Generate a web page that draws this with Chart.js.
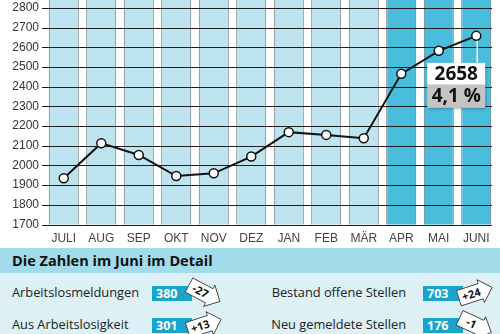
<!DOCTYPE html>
<html>
<head>
<meta charset="utf-8">
<script src="https://cdn.jsdelivr.net/npm/chart.js@4/dist/chart.umd.min.js"></script>
<style>
  html, body { margin: 0; padding: 0; background: #fff; }
  #wrap { position: relative; width: 500px; height: 334px; overflow: hidden; font-family: "Open Sans", sans-serif; }
  #chartBox { position: absolute; left: 0; top: 0; width: 500px; height: 248px; }
  #panel { position: absolute; left: 0; top: 248px; width: 500px; height: 86px; background: #dcf0f6; }
  #panelHead { height: 25px; background: #a2dbea; font-weight: 700; font-size: 14.5px; line-height: 25px; padding-left: 12px; color: #111; }
  .row { position: absolute; font-size: 12.8px; line-height: 19px; color: #222; }
  .lbl { position: absolute; }
  .num { position: absolute; background: #17a5cc; color: #fff; font-weight: 700; font-size: 12.5px; height: 15px; line-height: 15px; padding-left: 4px; width: 36px; }
  svg.arr { position: absolute; overflow: visible; }
</style>
</head>
<body>
<div id="wrap">
  <div id="chartBox"><canvas id="growthChart"></canvas></div>
  <div id="panel">
    <div id="panelHead">Die Zahlen im Juni im Detail</div>
  </div>
</div>
<script>
// Chart data
const months = ['JULI', 'AUG', 'SEP', 'OKT', 'NOV', 'DEZ', 'JAN', 'FEB', 'MÄR', 'APR', 'MAI', 'JUNI'];
const values = [1935, 2113, 2053, 1946, 1960, 2045, 2169, 2155, 2138, 2465, 2582, 2658];
const highlighted = [false, false, false, false, false, false, false, false, false, true, true, true];
const yTicks = [1700, 1800, 1900, 2000, 2100, 2200, 2300, 2400, 2500, 2600, 2700, 2800];
const yMin = 1700;
const yMax = 2840;
const lastValue = '2658';
const lastChange = '4,1 %';

// Detail rows: label, value, change
const detailLabels = ['Arbeitslosmeldungen', 'Aus Arbeitslosigkeit abgemeldet', 'Bestand offene Stellen', 'Neu gemeldete Stellen'];
const detailValues = [380, 301, 703, 176];
const detailChanges = ['-27', '+13', '+24', '-1'];

const COLORS = {
    light: '#bde4ef',
    dark: '#48bddc',
    barEdge: '#5f6e73',
    grid: '#1e1e1e',
    text: '#333'
};

// gridlines go over the columns but under the line
const gridOverBars = {
    id: 'gridOverBars',
    afterDatasetDraw(chart, args) {
        if (args.index !== 0) return;
        const { ctx, chartArea, scales } = chart;
        ctx.save();
        ctx.strokeStyle = COLORS.grid;
        ctx.lineWidth = 1;
        scales.y.ticks.forEach(t => {
            const y = Math.round(scales.y.getPixelForValue(t.value)) + 0.5;
            ctx.beginPath();
            ctx.moveTo(chartArea.left - 3, y);
            ctx.lineTo(chartArea.right - 3, y);
            ctx.stroke();
        });
        ctx.restore();
    }
};

// value box under the last point
const lastLabel = {
    id: 'lastLabel',
    afterDatasetsDraw(chart) {
        const meta = chart.getDatasetMeta(1);
        const pt = meta.data[meta.data.length - 1];
        const { ctx } = chart;
        const left = pt.x - 49, top = pt.y + 27, w = 58, h = 22;
        ctx.save();
        ctx.strokeStyle = '#fff';
        ctx.lineWidth = 1.5;
        ctx.beginPath();
        ctx.moveTo(pt.x + 1, pt.y + 5);
        ctx.lineTo(pt.x + 1, top);
        ctx.stroke();
        ctx.shadowColor = 'rgba(0,0,0,0.35)';
        ctx.shadowBlur = 3;
        ctx.shadowOffsetX = 1;
        ctx.shadowOffsetY = 1;
        ctx.fillStyle = '#fff';
        ctx.fillRect(left, top, w, h);
        ctx.fillStyle = '#c4c4c4';
        ctx.fillRect(left, top + h, w, h + 1);
        ctx.shadowColor = 'transparent';
        ctx.fillStyle = '#111';
        ctx.font = 'bold 19px "Open Sans", sans-serif';
        ctx.textAlign = 'center';
        ctx.textBaseline = 'middle';
        ctx.fillText(lastValue, left + w / 2, top + h / 2 + 1);
        ctx.fillText(lastChange, left + w / 2, top + h + h / 2 + 1);
        ctx.restore();
    }
};

const ctx = document.getElementById('growthChart').getContext('2d');
const chart = new Chart(ctx, {
    type: 'bar',
    data: {
        labels: months,
        datasets: [{
            type: 'bar',
            data: months.map(() => yMax),
            backgroundColor: highlighted.map(h => h ? COLORS.dark : COLORS.light),
            borderColor: COLORS.barEdge,
            borderWidth: 1,
            borderSkipped: 'top',
            barPercentage: 0.8,
            categoryPercentage: 1,
            order: 1
        }, {
            type: 'line',
            data: values,
            borderColor: '#111',
            borderWidth: 2,
            pointRadius: 4.5,
            pointBackgroundColor: '#fff',
            pointBorderColor: '#111',
            pointBorderWidth: 1.5,
            tension: 0,
            clip: false,
            order: 0
        }]
    },
    options: {
        responsive: true,
        maintainAspectRatio: false,
        animation: false,
        layout: { autoPadding: false, padding: { left: 0, right: 5, top: 0, bottom: 0 } },
        plugins: { legend: { display: false }, tooltip: { enabled: false } },
        scales: {
            x: {
                grid: { display: false, drawTicks: false },
                border: { display: false },
                ticks: {
                    color: '#444',
                    padding: 7,
                    font: { family: '"Liberation Sans Narrow", sans-serif', size: 12 }
                },
                afterFit: s => { s.height = 23.5; }
            },
            y: {
                min: yMin,
                max: yMax,
                grid: { display: false, drawTicks: false },
                border: { display: false },
                ticks: {
                    color: COLORS.text,
                    padding: 6,
                    font: { family: '"Liberation Sans Narrow", sans-serif', size: 12 },
                    callback: v => String(v)
                },
                afterBuildTicks: s => { s.ticks = yTicks.map(v => ({ value: v })); },
                afterFit: s => { s.width = 45; s.paddingTop = 0; s.paddingBottom = 0; }
            }
        }
    },
    plugins: [gridOverBars, lastLabel]
});

// Detail panel
const panel = document.getElementById('panel');
const rowPos = [
    { x: 12, y: 45, box: 152, align: 'left' },
    { x: 12, y: 77, box: 152, align: 'left' },
    { x: 406, y: 45, box: 423, align: 'right' },
    { x: 406, y: 77, box: 423, align: 'right' }
];
const arrowAngles = [28, -18, -18, 25];

detailLabels.forEach((label, i) => {
    const p = rowPos[i];
    const lbl = document.createElement('div');
    lbl.className = 'row lbl';
    lbl.textContent = label;
    lbl.style.top = (p.y - 10) + 'px';
    if (p.align === 'left') {
        lbl.style.left = p.x + 'px';
        lbl.style.width = '135px';
    } else {
        lbl.style.right = (500 - p.x) + 'px';
        lbl.style.whiteSpace = 'nowrap';
    }
    panel.appendChild(lbl);

    const num = document.createElement('div');
    num.className = 'num';
    num.textContent = detailValues[i];
    num.style.left = p.box + 'px';
    num.style.top = (p.y - 7) + 'px';
    panel.appendChild(num);

    const ns = 'http://www.w3.org/2000/svg';
    const svg = document.createElementNS(ns, 'svg');
    svg.setAttribute('class', 'arr');
    svg.setAttribute('width', '36');
    svg.setAttribute('height', '26');
    svg.style.left = (p.box + 34) + 'px';
    svg.style.top = (p.y - 13) + 'px';
    const g = document.createElementNS(ns, 'g');
    g.setAttribute('transform', 'translate(18,13) rotate(' + arrowAngles[i] + ')');
    const path = document.createElementNS(ns, 'path');
    path.setAttribute('d', 'M-17,-8 L6,-8 L6,-12 L18,0 L6,12 L6,8 L-17,8 Z');
    path.setAttribute('fill', '#fff');
    path.setAttribute('stroke', '#333');
    path.setAttribute('stroke-width', '0.8');
    g.appendChild(path);
    const txt = document.createElementNS(ns, 'text');
    txt.setAttribute('x', '-4');
    txt.setAttribute('y', '4');
    txt.setAttribute('text-anchor', 'middle');
    txt.setAttribute('font-family', 'Open Sans, sans-serif');
    txt.setAttribute('font-weight', '700');
    txt.setAttribute('font-size', '11');
    txt.setAttribute('fill', '#111');
    txt.textContent = detailChanges[i];
    g.appendChild(txt);
    svg.appendChild(g);
    panel.appendChild(svg);
});
</script>
</body>
</html>
